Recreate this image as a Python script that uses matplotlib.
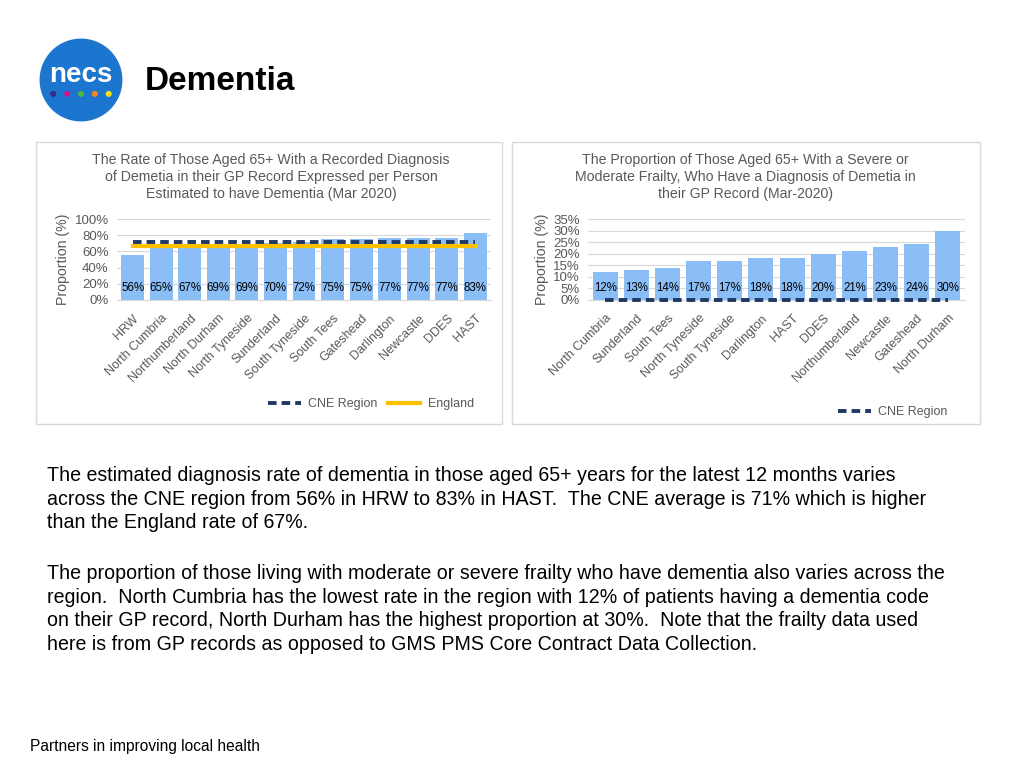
import numpy as np
import matplotlib
matplotlib.use("Agg")
import matplotlib.pyplot as plt
import matplotlib.patches as mpatches
from matplotlib.lines import Line2D
from matplotlib.ticker import PercentFormatter

plt.rcParams["font.family"] = ["Liberation Sans", "DejaVu Sans"]

# ── Data ──────────────────────────────────────────────────────────────────────
diag_areas = ["HRW", "North Cumbria", "Northumberland", "North Durham", "North Tyneside",
              "Sunderland", "South Tyneside", "South Tees", "Gateshead", "Darlington",
              "Newcastle", "DDES", "HAST"]
diag_rate = [56, 65, 67, 69, 69, 70, 72, 75, 75, 77, 77, 77, 83]
diag_cne = 71
diag_england = 67

frail_areas = ["North Cumbria", "Sunderland", "South Tees", "North Tyneside", "South Tyneside",
               "Darlington", "HAST", "DDES", "Northumberland", "Newcastle", "Gateshead",
               "North Durham"]
frail_rate = [12, 13, 14, 17, 17, 18, 18, 20, 21, 23, 24, 30]
frail_cne = 0

BAR = "#8BBEF6"
NAVY = "#1F3864"
GOLD = "#FFC000"
GREY = "#595959"
DASH = (0, (2.2, 1.3))

W, H = 1024, 768


def px_axes(fig, x0, y0, x1, y1, **kw):
    """Add axes from pixel box (top-left origin)."""
    return fig.add_axes([x0 / W, 1 - y1 / H, (x1 - x0) / W, (y1 - y0) / H], **kw)


def bar_panel(ax, areas, vals, ymax, ystep):
    x = np.arange(len(areas))
    ax.bar(x, vals, width=0.8, color=BAR, zorder=2)
    for xi, v in zip(x, vals):
        ax.text(xi, ymax * 0.15, f"{v}%", ha="center", va="center",
                fontsize=8.3, color="black", zorder=4)
    ax.set_xlim(-0.55, len(areas) - 0.45)
    ax.set_ylim(0, ymax)
    ax.set_yticks(np.arange(0, ymax + 0.1, ystep))
    ax.yaxis.set_major_formatter(PercentFormatter(decimals=0))
    ax.set_xticks(x)
    ax.set_xticklabels(areas, rotation=45, ha="right", rotation_mode="anchor",
                       fontsize=9, color=GREY)
    ax.tick_params(axis="y", labelsize=9.5, labelcolor=GREY, length=0, pad=6)
    ax.tick_params(axis="x", length=0, pad=9)
    ax.grid(True, axis="y", color="#D9D9D9", lw=0.8, zorder=0)
    for s in ["top", "right", "left"]:
        ax.spines[s].set_visible(False)
    ax.spines["bottom"].set_color("#D9D9D9")
    ax.set_ylabel("Proportion (%)", fontsize=10.2, color=GREY, labelpad=3)
    return x


fig = plt.figure(figsize=(10.24, 7.68), dpi=100)

# ── Logo + title ──────────────────────────────────────────────────────────────
ax_logo = px_axes(fig, 39, 38, 123, 122)
ax_logo.set_xlim(-1, 1)
ax_logo.set_ylim(-1, 1)
ax_logo.set_aspect("equal")
ax_logo.axis("off")
ax_logo.add_patch(mpatches.Circle((0, 0), 0.97, color="#1C75CF"))
ax_logo.text(0, 0.12, "necs", color="white", fontsize=20, fontweight="bold",
             ha="center", va="center")
for dx, c in zip([-0.66, -0.33, 0.0, 0.33, 0.66],
                 ["#3B2A8C", "#C8168C", "#4DB848", "#F08A24", "#F5E21B"]):
    ax_logo.add_patch(mpatches.Circle((dx, -0.33), 0.055, color=c))

fig.text(145 / W, 1 - 81 / H, "Dementia", fontsize=24, fontweight="bold",
         ha="left", va="center")

# ── Panel frames ──────────────────────────────────────────────────────────────
for x0, x1 in [(36, 502), (512, 980)]:
    fig.add_artist(mpatches.Rectangle((x0 / W, 1 - 424 / H), (x1 - x0) / W, 282 / H,
                                      transform=fig.transFigure, fill=False,
                                      edgecolor="#D9D9D9", lw=1))

# ── Left chart ────────────────────────────────────────────────────────────────
ax1 = px_axes(fig, 117, 219, 491, 300)
x1 = bar_panel(ax1, diag_areas, diag_rate, 100, 20)
ax1.plot([x1[0], x1[-1]], [diag_england] * 2, color=GOLD, lw=3, zorder=3)
ax1.plot([x1[0], x1[-1]], [diag_cne] * 2, color=NAVY, lw=2.8, ls=DASH, zorder=3)
fig.text(271 / W, 1 - 177 / H,
         "The Rate of Those Aged 65+ With a Recorded Diagnosis\n"
         "of Demetia in their GP Record Expressed per Person\n"
         "Estimated to have Dementia (Mar 2020)",
         ha="center", va="center", fontsize=10.2, color=GREY, linespacing=1.27)
fig.legend(handles=[Line2D([], [], color=NAVY, lw=2.8, ls=DASH),
                    Line2D([], [], color=GOLD, lw=3)],
           labels=["CNE Region", "England"], loc="center",
           bbox_to_anchor=(371 / W, 1 - 404 / H), ncol=2, frameon=False,
           fontsize=9, labelcolor=GREY, handlelength=2.6, handletextpad=0.6,
           columnspacing=0.8)

# ── Right chart ───────────────────────────────────────────────────────────────
ax2 = px_axes(fig, 588, 219, 965, 300)
x2 = bar_panel(ax2, frail_areas, frail_rate, 35, 5)
ax2.plot([x2[0], x2[-1]], [frail_cne] * 2, color=NAVY, lw=2.8, ls=DASH,
         zorder=3, clip_on=False)
fig.text(745 / W, 1 - 177 / H,
         "The Proportion of Those Aged 65+ With a Severe or\n"
         "Moderate Frailty, Who Have a Diagnosis of Demetia in\n"
         "their GP Record (Mar-2020)",
         ha="center", va="center", fontsize=10.2, color=GREY, linespacing=1.27)
fig.legend(handles=[Line2D([], [], color=NAVY, lw=2.8, ls=DASH)],
           labels=["CNE Region"], loc="center",
           bbox_to_anchor=(893 / W, 1 - 412 / H), frameon=False,
           fontsize=9, labelcolor=GREY, handlelength=2.6, handletextpad=0.6)

# ── Commentary ────────────────────────────────────────────────────────────────
fig.text(47 / W, 1 - 466 / H,
         "The estimated diagnosis rate of dementia in those aged 65+ years for the latest 12 months varies\n"
         "across the CNE region from 56% in HRW to 83% in HAST.  The CNE average is 71% which is higher\n"
         "than the England rate of 67%.",
         ha="left", va="top", fontsize=14.1, linespacing=1.31)
fig.text(47 / W, 1 - 564 / H,
         "The proportion of those living with moderate or severe frailty who have dementia also varies across the\n"
         "region.  North Cumbria has the lowest rate in the region with 12% of patients having a dementia code\n"
         "on their GP record, North Durham has the highest proportion at 30%.  Note that the frailty data used\n"
         "here is from GP records as opposed to GMS PMS Core Contract Data Collection.",
         ha="left", va="top", fontsize=14.1, linespacing=1.31)

fig.text(30 / W, 1 - 747 / H, "Partners in improving local health", fontsize=11.2,
         ha="left", va="center")

fig.savefig("out.png", dpi=100)
plt.close(fig)
